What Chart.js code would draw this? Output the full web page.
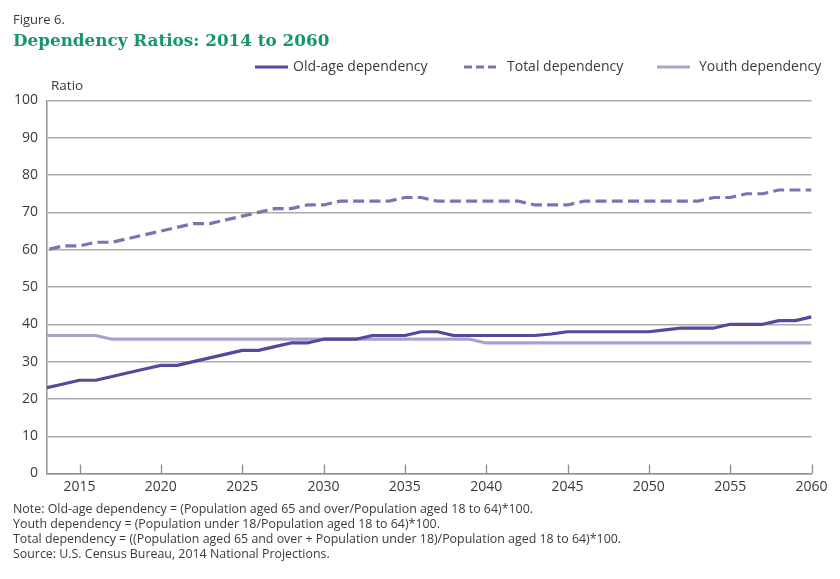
<!DOCTYPE html>
<html>
<head>
<meta charset="utf-8">
<script src="https://cdn.jsdelivr.net/npm/chart.js@4.4.1/dist/chart.umd.min.js"></script>
<style>
  body { margin:0; background:#fff; }
  #wrap { position:relative; width:840px; height:579px; overflow:hidden; }
  #c { position:absolute; left:0; top:0; }
  .fig { position:absolute; left:13px; top:13px; font:13px/13px "Open Sans", sans-serif; color:#3a3a3a; }
  .title { position:absolute; left:13px; top:32px; font:bold 16.8px/16.8px "DejaVu Serif", serif; color:#16966b; white-space:nowrap; }
  .notes { position:absolute; left:13px; top:501px; font:12.4px/15px "Open Sans", sans-serif; color:#3a3a3a; white-space:nowrap; }
</style>
</head>
<body>
<div id="wrap">
  <canvas id="c" width="840" height="579"></canvas>
  <div class="fig">Figure 6.</div>
  <div class="title">Dependency Ratios: 2014 to 2060</div>
  <div class="notes">Note: Old-age dependency = (Population aged 65 and over/Population aged 18 to 64)*100.<br>Youth dependency = (Population under 18/Population aged 18 to 64)*100.<br>Total dependency = ((Population aged 65 and over + Population under 18)/Population aged 18 to 64)*100.<br>Source: U.S. Census Bureau, 2014 National Projections.</div>
</div>
<script>
const years = [2013,2014,2015,2016,2017,2018,2019,2020,2021,2022,2023,2024,2025,2026,2027,2028,2029,2030,
  2031,2032,2033,2034,2035,2036,2037,2038,2039,2040,2041,2042,2043,2044,2045,2046,2047,2048,2049,2050,
  2051,2052,2053,2054,2055,2056,2057,2058,2059,2060];

const oldAge = [23,24,25,25,26,27,28,29,29,30,31,32,33,33,34,35,35,36,
  36,36,37,37,37,38,38,37,37,37,37,37,37,37.4,38,38,38,38,38,38,
  38.5,39,39,39,40,40,40,41,41,42];

const total = [60,61,61,62,62,63,64,65,66,67,67,68,69,70,71,71,72,72,
  73,73,73,73,74,74,73,73,73,73,73,73,72,72,72,73,73,73,73,73,
  73,73,73,74,74,75,75,76,76,76];

const youth = [37,37,37,37,36,36,36,36,36,36,36,36,36,36,36,36,36,36,
  36,36,36,36,36,36,36,36,36,35,35,35,35,35,35,35,35,35,35,35,
  35,35,35,35,35,35,35,35,35,35];

const seriesNames = ['Old-age dependency', 'Total dependency', 'Youth dependency'];
const xTickValues = [2015,2020,2025,2030,2035,2040,2045,2050,2055,2060];
const yTickValues = [0,10,20,30,40,50,60,70,80,90,100];

const toPoints = arr => years.map((yr, i) => ({x: yr, y: arr[i]}));

const FONT = '"Open Sans", sans-serif';
const TEXT = '#3a3a3a';

const decor = {
  id: 'decor',
  afterDraw(chart) {
    const {ctx, chartArea} = chart;
    const xs = chart.scales.x;
    ctx.save();
    // inward tick marks on the x axis
    ctx.strokeStyle = '#8f8f8f';
    ctx.lineWidth = 1.3;
    xs.ticks.forEach(t => {
      const px = Math.round(xs.getPixelForValue(t.value)) + 0.5;
      ctx.beginPath();
      ctx.moveTo(px, chartArea.bottom);
      ctx.lineTo(px, chartArea.bottom - 9);
      ctx.stroke();
    });
    // "Ratio" label
    ctx.fillStyle = TEXT;
    ctx.font = '13.5px ' + FONT;
    ctx.textBaseline = 'middle';
    ctx.textAlign = 'left';
    ctx.fillText('Ratio', 51, 86);
    // legend
    const items = [
      {sx: 255, tx: 293, dash: []},
      {sx: 464, tx: 507, dash: [8, 4]},
      {sx: 657, tx: 699, dash: []}
    ];
    const ly = 67;
    chart.data.datasets.forEach((ds, i) => {
      const it = items[i];
      ctx.strokeStyle = ds.borderColor;
      ctx.lineWidth = ds.borderWidth;
      ctx.lineCap = 'butt';
      ctx.setLineDash(it.dash);
      ctx.beginPath();
      ctx.moveTo(it.sx, ly);
      ctx.lineTo(it.sx + 33, ly);
      ctx.stroke();
      ctx.setLineDash([]);
      ctx.fillStyle = TEXT;
      ctx.font = '14px ' + FONT;
      ctx.fillText(ds.label, it.tx, ly);
    });
    ctx.restore();
  }
};

new Chart(document.getElementById('c'), {
  type: 'line',
  data: {
    datasets: [
      { label: seriesNames[0], data: toPoints(oldAge), borderColor: '#58479a', borderWidth: 3.2,
        pointRadius: 0, tension: 0, borderJoinStyle: 'round' },
      { label: seriesNames[1], data: toPoints(total), borderColor: '#7d73b0', borderWidth: 3.2,
        borderDash: [11, 5.27], borderDashOffset: -2.5, pointRadius: 0, tension: 0, borderJoinStyle: 'round' },
      { label: seriesNames[2], data: toPoints(youth), borderColor: '#a9a2d0', borderWidth: 3.2,
        pointRadius: 0, tension: 0, borderJoinStyle: 'round' }
    ]
  },
  options: {
    responsive: false,
    animation: false,
    devicePixelRatio: 1,
    layout: { padding: { left: 0, top: 100.5, right: 28.5, bottom: 77.5 } },
    plugins: { legend: { display: false }, tooltip: { enabled: false }, title: { display: false } },
    scales: {
      x: {
        type: 'linear', min: 2013, max: 2060,
        afterBuildTicks: s => { s.ticks = xTickValues.map(v => ({value: v})); },
        afterFit: s => { s.height = 28; },
        grid: { display: true, drawOnChartArea: false, drawTicks: false },
        border: { display: true, color: '#8f8f8f', width: 1.5 },
        ticks: { padding: 5, color: TEXT, font: { family: FONT, size: 14 }, autoSkip: false, maxRotation: 0,
                 callback: v => String(v) }
      },
      y: {
        min: 0, max: 100,
        afterBuildTicks: s => { s.ticks = yTickValues.map(v => ({value: v})); },
        afterFit: s => { s.width = 47; },
        grid: { color: '#ababab', lineWidth: 1.4, drawTicks: false },
        border: { display: true, color: '#9a9a9a', width: 1.6 },
        ticks: { padding: 9, color: TEXT, font: { family: FONT, size: 14 } }
      }
    }
  },
  plugins: [decor]
});
</script>
</body>
</html>
